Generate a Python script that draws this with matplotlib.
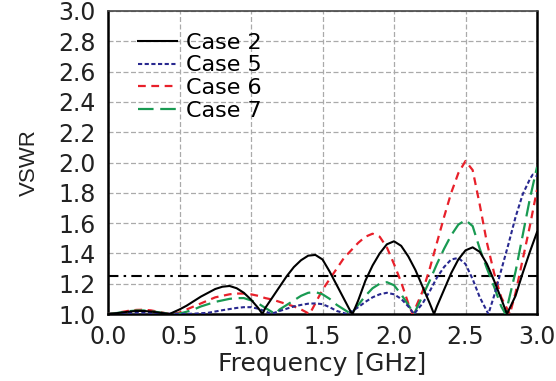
import matplotlib
matplotlib.use("Agg")
import matplotlib.pyplot as plt

# frequency [GHz] / VSWR
f_case2 = [0, 0.05, 0.1, 0.15, 0.2, 0.25, 0.3, 0.35, 0.4, 0.43, 0.5, 0.55, 0.6, 0.65, 0.7,
           0.75, 0.8, 0.85, 0.9, 0.95, 1.0, 1.05, 1.08, 1.1, 1.15, 1.2, 1.25, 1.3, 1.35, 1.4,
           1.45, 1.5, 1.55, 1.6, 1.65, 1.7, 1.71, 1.75, 1.8, 1.85, 1.9, 1.95, 2.0, 2.05, 2.1,
           2.15, 2.2, 2.25, 2.28, 2.3, 2.35, 2.4, 2.45, 2.5, 2.55, 2.6, 2.65, 2.7, 2.75, 2.79,
           2.85, 2.9, 2.95, 3.0]
vswr_case2 = [1.0, 1.004, 1.01, 1.016, 1.02, 1.02, 1.016, 1.01, 1.003, 1.0, 1.03, 1.055, 1.085,
              1.115, 1.14, 1.165, 1.18, 1.185, 1.17, 1.14, 1.095, 1.04, 1.0, 1.04, 1.11, 1.18,
              1.25, 1.31, 1.355, 1.385, 1.39, 1.36, 1.28, 1.19, 1.1, 1.01, 1.0, 1.09, 1.22, 1.32,
              1.4, 1.46, 1.48, 1.45, 1.38, 1.29, 1.18, 1.07, 1.0, 1.05, 1.16, 1.27, 1.36, 1.42,
              1.44, 1.41, 1.33, 1.22, 1.1, 1.0, 1.12, 1.27, 1.41, 1.54]

f_case5 = [0, 0.1, 0.2, 0.25, 0.3, 0.4, 0.5, 0.6, 0.7, 0.8, 0.9, 0.95, 1.0, 1.05, 1.1, 1.14,
           1.2, 1.25, 1.3, 1.35, 1.4, 1.45, 1.5, 1.55, 1.6, 1.67, 1.7, 1.75, 1.8, 1.85, 1.9,
           1.95, 2.0, 2.05, 2.1, 2.14, 2.2, 2.25, 2.3, 2.35, 2.4, 2.45, 2.5, 2.55, 2.6, 2.66,
           2.7, 2.75, 2.8, 2.85, 2.9, 2.95, 2.97, 3.0]
vswr_case5 = [1.0, 1.005, 1.01, 1.01, 1.008, 1.003, 1.0, 1.002, 1.008, 1.025, 1.04, 1.045,
              1.045, 1.035, 1.018, 1.0, 1.02, 1.035, 1.05, 1.06, 1.068, 1.07, 1.065, 1.045,
              1.02, 1.0, 1.015, 1.045, 1.08, 1.11, 1.13, 1.14, 1.13, 1.1, 1.05, 1.0, 1.07,
              1.15, 1.24, 1.31, 1.36, 1.37, 1.33, 1.23, 1.11, 1.0, 1.12, 1.29, 1.46, 1.64,
              1.79, 1.89, 1.92, 1.91]

f_case6 = [0, 0.05, 0.1, 0.15, 0.2, 0.25, 0.3, 0.35, 0.4, 0.45, 0.5, 0.55, 0.6, 0.65, 0.7,
           0.75, 0.8, 0.85, 0.9, 0.95, 1.0, 1.05, 1.1, 1.15, 1.2, 1.25, 1.3, 1.35, 1.41, 1.45,
           1.5, 1.55, 1.6, 1.65, 1.7, 1.75, 1.8, 1.85, 1.9, 1.95, 2.0, 2.05, 2.1, 2.13, 2.15,
           2.2, 2.25, 2.3, 2.35, 2.4, 2.45, 2.5, 2.55, 2.6, 2.65, 2.7, 2.75, 2.81, 2.85, 2.9,
           2.95, 3.0]
vswr_case6 = [1.0, 1.006, 1.014, 1.022, 1.027, 1.028, 1.024, 1.015, 1.006, 1.0, 1.01, 1.03,
              1.05, 1.07, 1.09, 1.11, 1.12, 1.13, 1.135, 1.135, 1.13, 1.12, 1.105, 1.095,
              1.08, 1.065, 1.05, 1.03, 1.0, 1.07, 1.16, 1.23, 1.3, 1.37, 1.42, 1.47, 1.51,
              1.53, 1.51, 1.44, 1.33, 1.21, 1.07, 1.0, 1.04, 1.15, 1.3, 1.47, 1.64, 1.8, 1.93,
              2.01, 1.95, 1.72, 1.47, 1.27, 1.11, 1.0, 1.14, 1.36, 1.58, 1.82]

f_case7 = [0, 0.05, 0.1, 0.15, 0.2, 0.25, 0.3, 0.35, 0.4, 0.45, 0.5, 0.55, 0.6, 0.65, 0.7,
           0.75, 0.8, 0.85, 0.9, 0.95, 1.0, 1.05, 1.1, 1.17, 1.2, 1.25, 1.3, 1.35, 1.4, 1.45,
           1.5, 1.55, 1.6, 1.65, 1.7, 1.75, 1.8, 1.85, 1.9, 1.95, 2.0, 2.05, 2.1, 2.14, 2.2,
           2.25, 2.3, 2.35, 2.4, 2.45, 2.5, 2.55, 2.6, 2.65, 2.7, 2.75, 2.78, 2.85, 2.9, 2.95,
           3.0]
vswr_case7 = [1.0, 1.005, 1.012, 1.019, 1.023, 1.023, 1.019, 1.012, 1.005, 1.0, 1.003, 1.015,
              1.03, 1.05, 1.065, 1.08, 1.09, 1.1, 1.105, 1.105, 1.09, 1.07, 1.04, 1.0, 1.03,
              1.06, 1.09, 1.12, 1.14, 1.145, 1.13, 1.1, 1.06, 1.03, 1.0, 1.06, 1.12, 1.17, 1.2,
              1.21, 1.19, 1.13, 1.06, 1.0, 1.12, 1.22, 1.33, 1.43, 1.52, 1.59, 1.62, 1.58,
              1.43, 1.3, 1.18, 1.05, 1.0, 1.28, 1.52, 1.76, 1.97]

vswr_limit = 1.25
x_ticks = [0.0, 0.5, 1.0, 1.5, 2.0, 2.5, 3.0]
y_ticks = [1.0, 1.2, 1.4, 1.6, 1.8, 2.0, 2.2, 2.4, 2.6, 2.8, 3.0]

plt.rcParams['font.family'] = 'DejaVu Sans'
fig = plt.figure(figsize=(5.56, 3.81), dpi=100)
ax = fig.add_axes([108/556, 1 - 314/381, 429/556, 303/381])

ax.plot(f_case2, vswr_case2, color='black', lw=1.5, label='Case 2', zorder=5)
ax.plot(f_case5, vswr_case5, color='#28288f', lw=1.5, linestyle=(0, (2, 1.2)), label='Case 5', zorder=4)
ax.plot(f_case6, vswr_case6, color='#e8202a', lw=1.6, linestyle=(0, (3.5, 2.5)), label='Case 6', zorder=3)
ax.plot(f_case7, vswr_case7, color='#199a52', lw=1.6, linestyle=(0, (7, 3)), label='Case 7', zorder=3)
ax.axhline(vswr_limit, color='black', lw=1.5, linestyle=(0, (5, 2.5, 1.2, 2.5)), zorder=2)

ax.set_xlim(0, 3)
ax.set_ylim(1, 3)
ax.set_xticks(x_ticks)
ax.set_yticks(y_ticks)
ax.set_xticklabels([f"{t:.1f}" for t in x_ticks])
ax.set_yticklabels([f"{t:.1f}" for t in y_ticks])
ax.tick_params(length=0, labelsize=17, colors='#222222')
ax.tick_params(axis='x', pad=8)
ax.tick_params(axis='y', pad=9)
ax.grid(True, color='#aaaaaa', linestyle=(0, (4, 2)), lw=0.9)
for s in ax.spines.values():
    s.set_linewidth(1.8)
    s.set_color('black')
ax.spines['top'].set_linewidth(1.2)
ax.spines['top'].set_color('#444444')

ax.set_xlabel('Frequency [GHz]', fontsize=18, color='#222222', labelpad=2)
ax.set_ylabel('VSWR', fontsize=16, family='Liberation Sans', color='#222222', labelpad=13)

ax.legend(loc='upper left', bbox_to_anchor=(0.07, 0.928), frameon=False, fontsize=16,
          handlelength=1.75, handletextpad=0.4, labelspacing=0.12, borderpad=0, borderaxespad=0)

fig.savefig('out.png', dpi=100)
